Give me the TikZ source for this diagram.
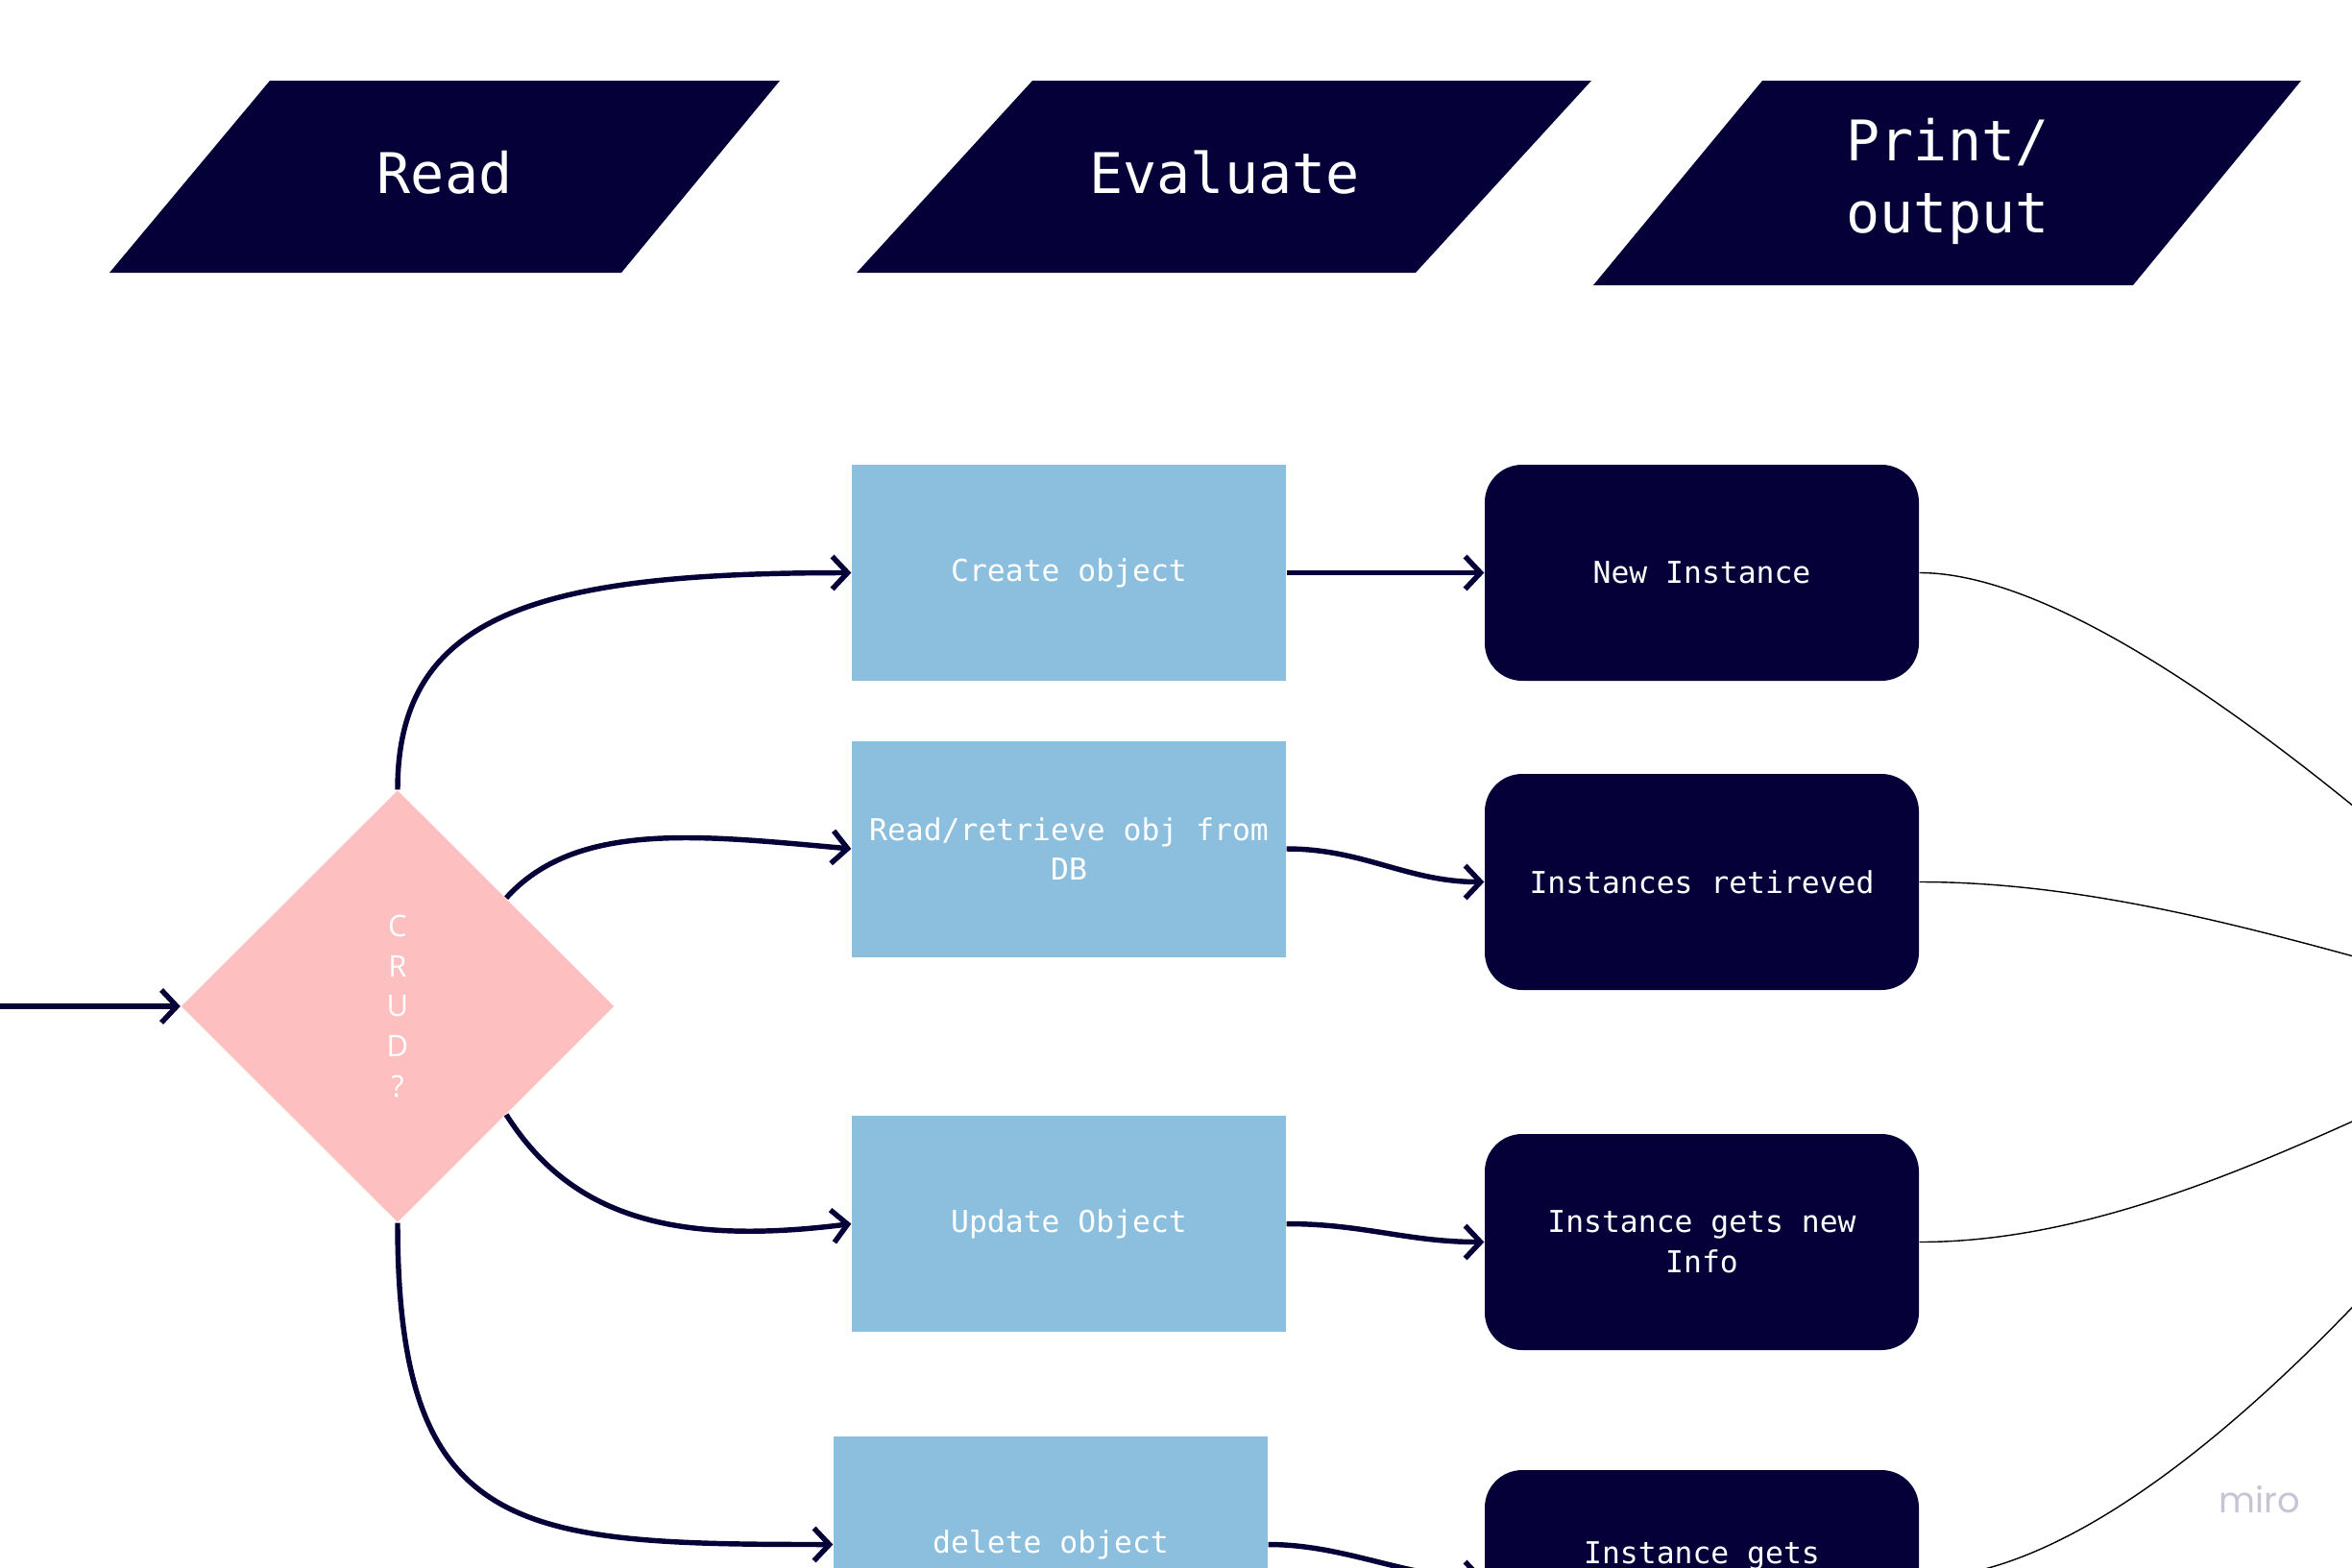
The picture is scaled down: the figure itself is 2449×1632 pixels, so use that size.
\documentclass[tikz,border=0pt]{standalone}
\usepackage{fontspec}
\setmonofont{DejaVu Sans Mono}
\newfontfamily\crudfont{Open Sans}
\newfontfamily\mirofont{Poppins}
\usetikzlibrary{shapes.geometric,arrows.meta}
\definecolor{navy}{HTML}{050038}
\definecolor{skyb}{HTML}{8BBFDD}
\definecolor{pinkd}{HTML}{FDBFBF}
\definecolor{mirog}{HTML}{C5C5D5}
\begin{document}
\begin{tikzpicture}[x=0.1mm,y=-0.1mm,
  headtext/.style={text=white,font=\ttfamily\fontsize{16.6}{21.3}\selectfont,align=left,inner sep=0},
  evalbox/.style={fill=skyb,minimum width=45.2mm,minimum height=22.5mm,inner sep=0,text=white,font=\ttfamily\fontsize{8.93}{11.9}\selectfont,align=center},
  outbox/.style={fill=navy,rounded corners=3.9mm,minimum width=45.2mm,minimum height=22.5mm,inner sep=0,text=white,font=\ttfamily\fontsize{8.93}{11.9}\selectfont,align=center},
  conn/.style={draw=navy,line width=1.55pt,-{Straight Barb[length=1.6mm,width=3.4mm]}},
  thinline/.style={draw=black,line width=0.4pt}]
\useasboundingbox (0,0) rectangle (2449,1632);
\clip (0,0) rectangle (2449,1632);
\fill[white] (0,0) rectangle (2449,1632);
% headers
\fill[navy] (114,284) -- (281,84) -- (812,84) -- (647,284) -- cycle;
\node[headtext] (hread) at (463,180) {Read};
\fill[navy] (892,284) -- (1075,84) -- (1657,84) -- (1474,284) -- cycle;
\node[headtext] (heval) at (1275,180) {Evaluate};
\fill[navy] (1659,297) -- (1835,84) -- (2396,84) -- (2221,297) -- cycle;
\node[headtext] (hprint) at (2028,189) {Print/\\output};
% decision
\node[diamond,aspect=1,fill=pinkd,minimum width=45.1mm,minimum height=45mm,inner sep=0,
  text=white,font=\crudfont\fontsize{8.8}{11.9}\selectfont,align=center] (d) at (414,1048) {C\\R\\U\\D\\?};
\coordinate (start) at (-5,1048);
% evaluate boxes
\node[evalbox] (c1) at (1113,596.5) {Create object};
\node[evalbox] (c2) at (1113,884) {Read/retrieve obj from\\DB};
\node[evalbox] (c3) at (1113,1274.5) {Update Object};
\node[evalbox] (c4) at (1094,1608.5) {delete object};
% output boxes
\node[outbox] (o1) at (1772,596.5) {New Instance};
\node[outbox] (o2) at (1772,918.5) {Instances retireved};
\node[outbox] (o3) at (1772,1293.5) {Instance gets new\\Info};
\node[outbox] (o4) at (1772,1643.5) {};
\node[text=white,font=\ttfamily\fontsize{8.93}{11.9}\selectfont,inner sep=0] (o4t) at (1772,1620) {Instance gets};
\coordinate (sink) at (2700,1060);
% connectors
\draw[conn] (start) -- (d.west);
\draw[conn] (d.north) .. controls +(0,-183) and +(-327,0) .. (c1.west);
\draw[conn] (d.north east) .. controls +(73,-81) and +(-157,-14) .. (c2.west);
\draw[conn] (d.south east) .. controls +(63,99) and +(-197,25) .. (c3.west);
\draw[conn] (d.south) .. controls +(0,327) and +(-328,0) .. (c4.west);
\draw[conn] (c1.east) -- (o1.west);
\draw[conn] (c2.east) .. controls +(80,0) and +(-80,0) .. (o2.west);
\draw[conn] (c3.east) .. controls +(80,0) and +(-80,0) .. (o3.west);
\draw[conn] (c4.east) .. controls +(80,0) and +(-80,0) .. (o4.west);
% thin lines
\draw[thinline] (o1.east) .. controls +(202,0) and +(-150,-140) .. (sink);
\draw[thinline] (o2.east) .. controls +(252,0) and +(-200,-40) .. (sink);
\draw[thinline] (o3.east) .. controls +(252,0) and +(-200,70) .. (sink);
\draw[thinline] (o4.east) .. controls +(230,0) and +(-160,220) .. (sink);
% watermark
\node[text=mirog,font=\mirofont\fontsize{10.5}{12}\selectfont] (miro) at (2353,1562) {miro};
\end{tikzpicture}
\end{document}
